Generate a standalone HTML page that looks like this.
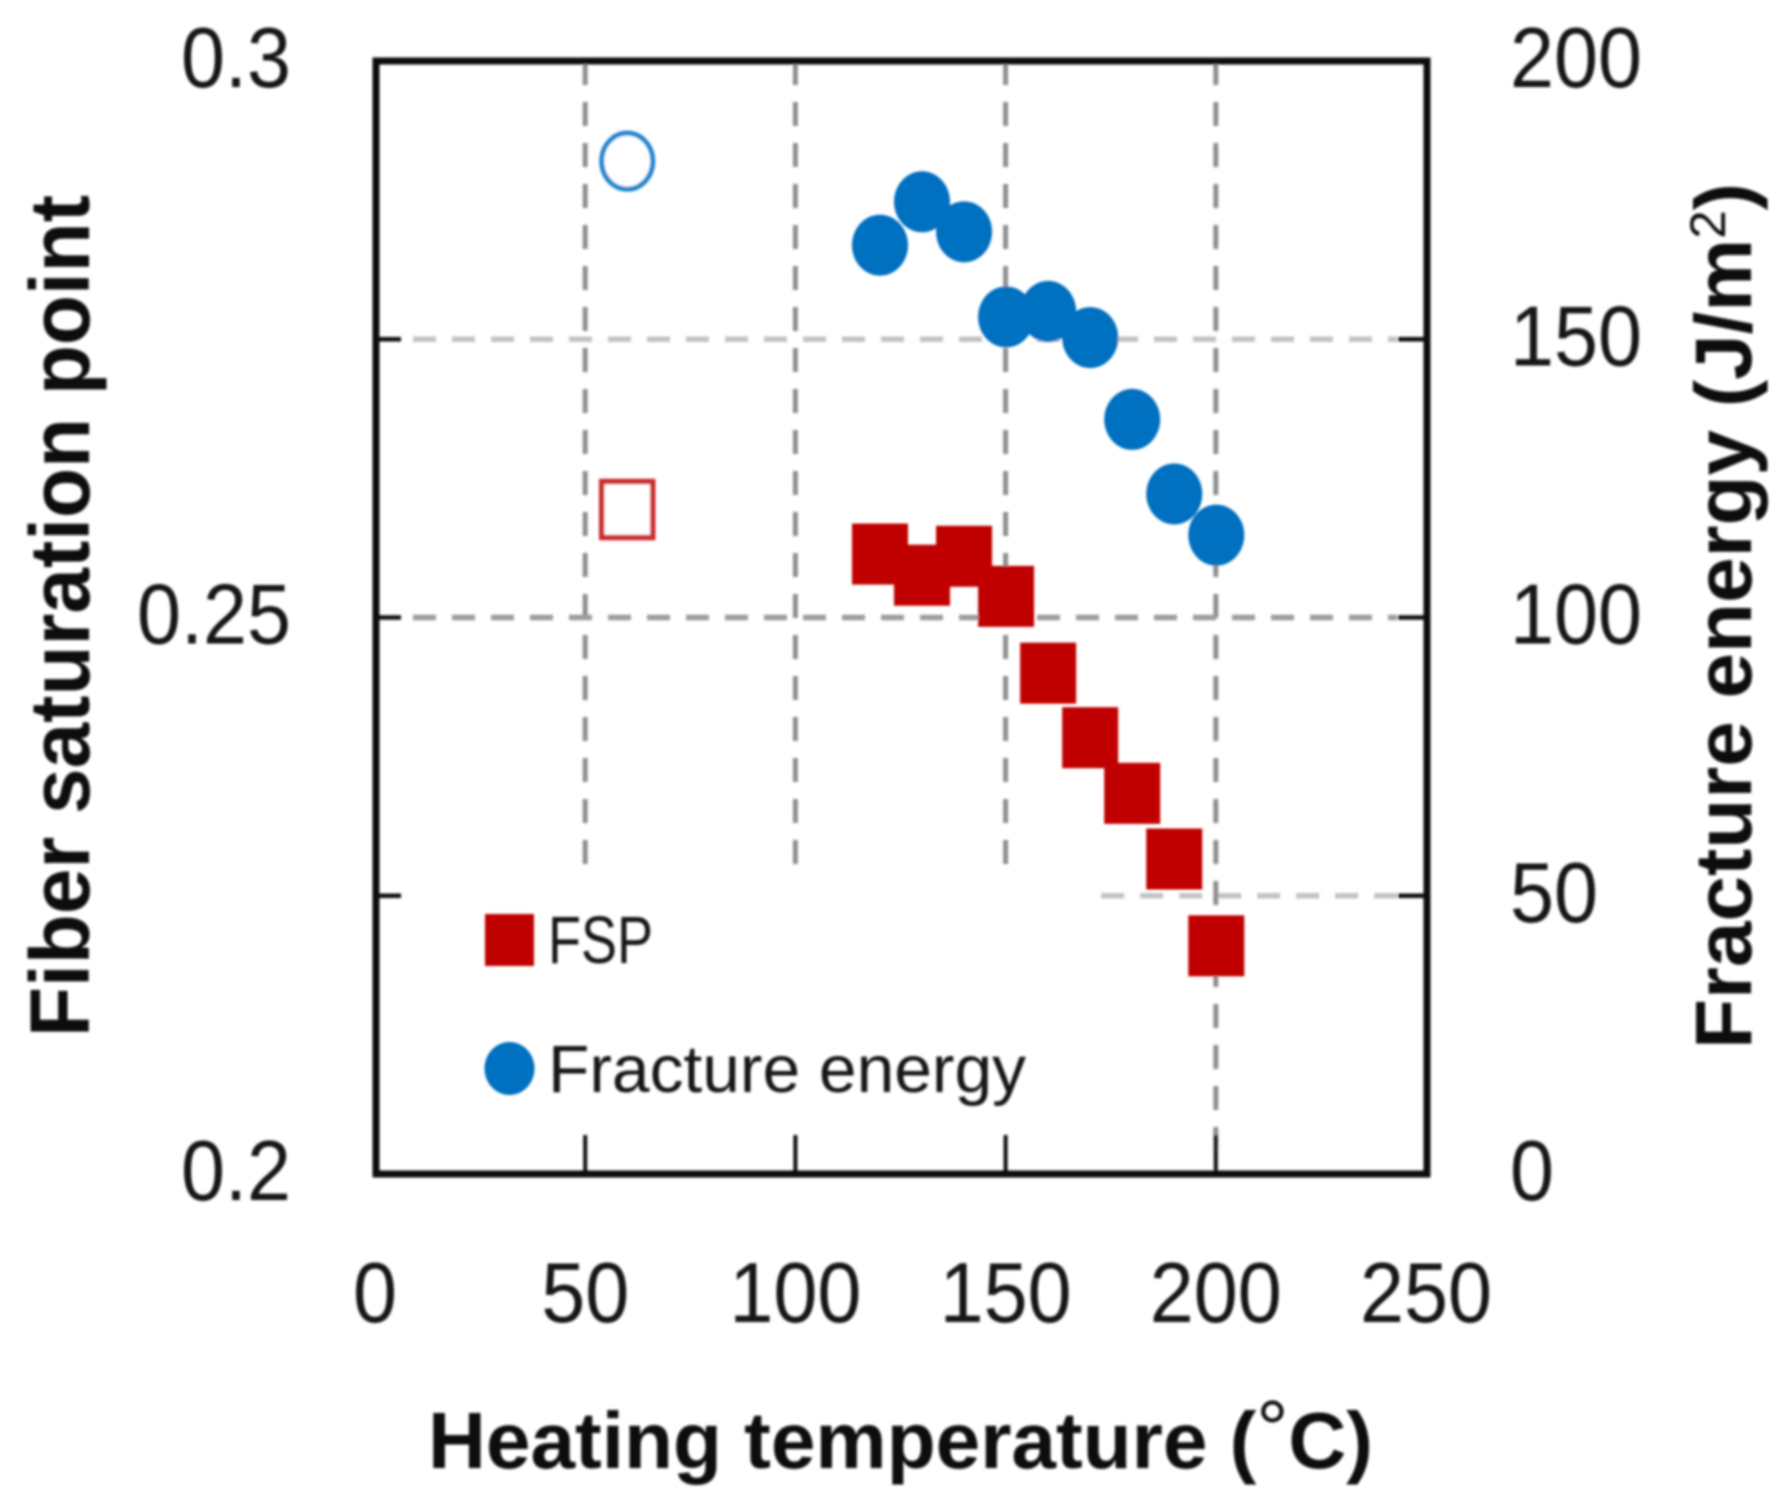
<!DOCTYPE html>
<html lang="en">
<head>
<meta charset="utf-8">
<title>Fiber saturation point and fracture energy vs heating temperature</title>
<style>
  html, body { margin: 0; padding: 0; background: #fff; }
  svg { display: block; }
  text { font-family: "Liberation Sans", sans-serif; fill: #141414; }
  .bold { font-weight: 700; fill: #0c0c0c; }
</style>
</head>
<body>
<svg id="chart" xmlns="http://www.w3.org/2000/svg" width="1787" height="1498" viewBox="0 0 1787 1498">
  <defs>
    <filter id="soft" x="-2%" y="-2%" width="104%" height="104%">
      <feGaussianBlur stdDeviation="1.3"/>
    </filter>
  </defs>
  <g id="root" filter="url(#soft)">
    <g id="grid"></g>
    <g id="marks"></g>
    <rect x="376" y="61" width="1051" height="1113" fill="none" stroke="#0a0a0a" stroke-width="7"/>
    <g id="ticks"></g>
    <g id="labels"></g>

    <rect x="485" y="914" width="49" height="52" fill="#c00000"/>
    <text x="548" y="963" font-size="67" textLength="105" lengthAdjust="spacingAndGlyphs">FSP</text>
    <ellipse cx="509.5" cy="1068.5" rx="25" ry="26.5" fill="#0070c0"/>
    <text x="548" y="1092" font-size="67" textLength="478" lengthAdjust="spacingAndGlyphs">Fracture energy</text>

    <text class="bold" x="428" y="1468" font-size="80" textLength="945" lengthAdjust="spacingAndGlyphs">Heating temperature (<tspan dy="-12" font-weight="400">°</tspan><tspan dy="12">C)</tspan></text>
    <text class="bold" transform="translate(89,1037) rotate(-90)" x="0" y="0" font-size="84" textLength="842" lengthAdjust="spacingAndGlyphs">Fiber saturation point</text>
    <text class="bold" transform="translate(1751,1049) rotate(-90)" x="0" y="0" font-size="80" textLength="866" lengthAdjust="spacingAndGlyphs">Fracture energy (J/m<tspan dy="-26" font-size="50" font-weight="400">2</tspan><tspan dy="26">)</tspan></text>
  </g>
</svg>
<script>
// ---- chart data ----
const temperatures = [120, 130, 140, 150, 160, 170, 180, 190, 200];
const fspValues = [0.2557, 0.2538, 0.2555, 0.2519, 0.2450, 0.2392, 0.2342, 0.2283, 0.2205];
const fractureValues = [166.9, 174.7, 169.3, 154, 155, 150.3, 135.6, 122.2, 114.8];
const openTemperature = [60];
const openFsp = [0.2597];
const openFracture = [182];
const xTicks = [0, 50, 100, 150, 200, 250];
const leftTicks = ["0.2", "0.25", "0.3"];
const rightTicks = [0, 50, 100, 150, 200];

// ---- axis functions ----
const plot = { left: 376, right: 1427, top: 61, bottom: 1174 };
function xScale(v) { return plot.left + (v / 250) * (plot.right - plot.left); }
function yRight(v) { return plot.bottom - (v / 200) * (plot.bottom - plot.top); }
function yLeft(v) { return plot.bottom - ((v - 0.2) / 0.1) * (plot.bottom - plot.top); }

const NS = "http://www.w3.org/2000/svg";
function mk(tag, attrs, parent) {
  const el = document.createElementNS(NS, tag);
  for (const k in attrs) el.setAttribute(k, attrs[k]);
  parent.appendChild(el);
  return el;
}
const grid = document.getElementById("grid");
const marks = document.getElementById("marks");
const ticks = document.getElementById("ticks");
const labels = document.getElementById("labels");

// ---- vertical gridlines and bottom ticks ----
xTicks.forEach(function (t) {
  if (t === 0 || t === 250) return;
  const x = xScale(t) - 1;
  const end = t === 200 ? plot.bottom : yRight(55.5);
  const g = mk("line", { x1: x, x2: x, y1: plot.top, y2: end, stroke: "#8f8f8f", "stroke-width": 5, "stroke-dasharray": "24 17" }, grid);
  
  
  const tk = mk("line", { x1: x, x2: x, y1: yRight(7), y2: plot.bottom, stroke: "#111", "stroke-width": 4 }, ticks);
  
  
});

// ---- horizontal gridlines and side ticks ----
rightTicks.forEach(function (t) {
  if (t === 0 || t === 200) return;
  const y = yRight(t);
  const start = t === 50 ? xScale(172.5) : plot.left + 37;
  const col = t === 100 ? "#9c9c9c" : "#c2c2c2";
  const g = mk("line", { x1: start, x2: plot.right - 30, y1: y, y2: y, stroke: col, "stroke-width": 5.5, "stroke-dasharray": "23 16" }, grid);
  
  
  const tl = mk("line", { x1: plot.left, x2: plot.left + 25, y1: y, y2: y, stroke: "#111", "stroke-width": 4.5 }, ticks);
  
  
  const tr = mk("line", { x1: plot.right - 29, x2: plot.right, y1: y, y2: y, stroke: "#111", "stroke-width": 4.5 }, ticks);
  
  
});

// ---- tick labels ----
function digitsWidth(s) {
  let w = 0;
  for (const c of String(s)) w += c === "." ? 22 : 44;
  return w;
}
xTicks.forEach(function (t) {
  const s = String(t);
  const w = digitsWidth(s);
  const el = mk("text", { x: xScale(t) - w / 2 - 1, y: 1322, "font-size": 85, textLength: w, lengthAdjust: "spacingAndGlyphs" }, labels);
  el.textContent = s;
  
  
});
leftTicks.forEach(function (s) {
  const w = digitsWidth(s);
  const el = mk("text", { x: 291 - w, y: yLeft(parseFloat(s)) + 26, "font-size": 85, textLength: w, lengthAdjust: "spacingAndGlyphs" }, labels);
  el.textContent = s;
  
  
});
rightTicks.forEach(function (t) {
  const s = String(t);
  const el = mk("text", { x: 1510, y: yRight(t) + 26, "font-size": 85, textLength: digitsWidth(s), lengthAdjust: "spacingAndGlyphs" }, labels);
  el.textContent = s;
  
  
});

// ---- markers ----
const RX = 28, RY = 30.5;
openTemperature.forEach(function (t, i) {
  const c = mk("ellipse", { cx: xScale(t) - 1, cy: yRight(openFracture[i]), rx: RX - 2.5, ry: RY - 2.5, fill: "#fff", stroke: "#1f86cf", "stroke-width": 5 }, marks);
  
  
  const r = mk("rect", { x: xScale(t) - 1 - RX + 2.5, y: yLeft(openFsp[i]) - RY + 2.5, width: 2 * RX - 5, height: 2 * RY - 5, fill: "#fff", stroke: "#cb2a2f", "stroke-width": 5.5 }, marks);
  
  
});
temperatures.forEach(function (t, i) {
  const c = mk("ellipse", { cx: xScale(t) - 0.5, cy: yRight(fractureValues[i]), rx: RX, ry: RY, fill: "#0070c0" }, marks);
  
  
});
temperatures.forEach(function (t, i) {
  const r = mk("rect", { x: xScale(t) - 0.5 - RX, y: yLeft(fspValues[i]) - RY, width: 2 * RX, height: 2 * RY, fill: "#c00000" }, marks);
  
  
});
</script>
</body>
</html>
